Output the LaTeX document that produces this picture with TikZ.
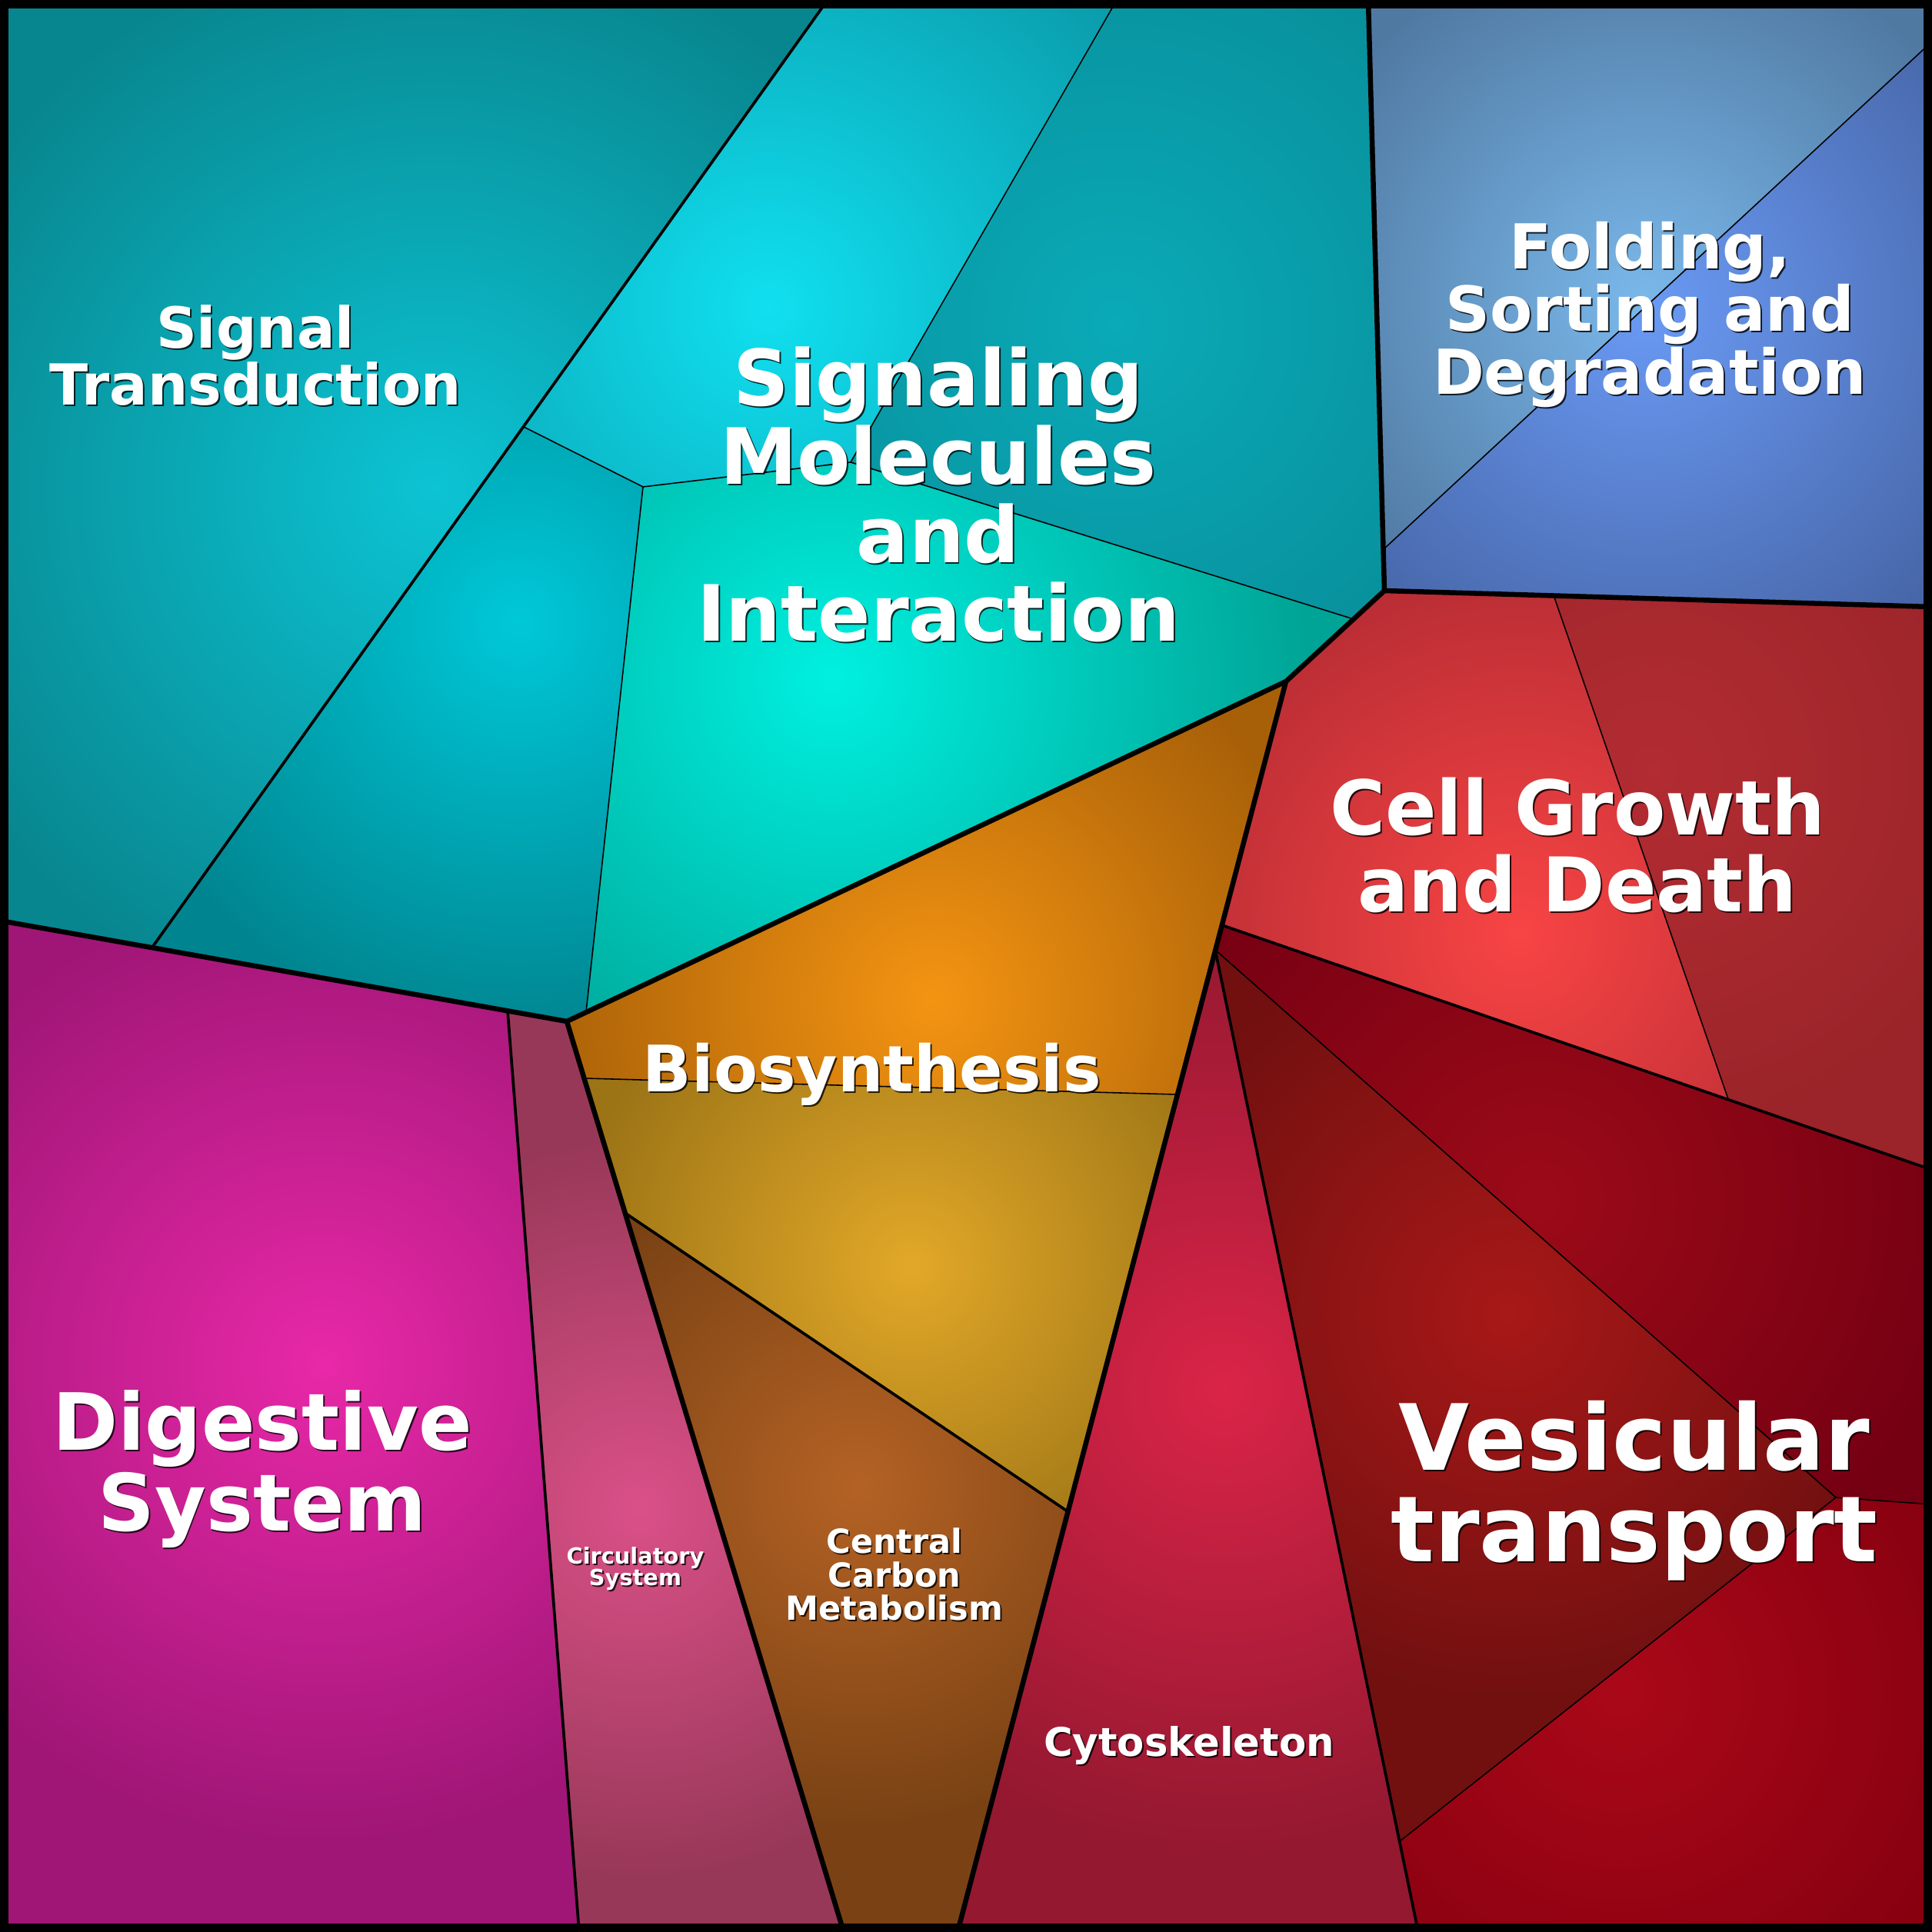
\documentclass[tikz,border=0pt]{standalone}
\usepackage{fontspec}
\setmainfont{DejaVu Sans}
\usepackage{tikz}

%% cell colours: bright centre / dark rim
\definecolor{stIn}{HTML}{0CC4D4}  \definecolor{stOut}{HTML}{08868F}
\definecolor{smaIn}{HTML}{10E0F0} \definecolor{smaOut}{HTML}{0A98A8}
\definecolor{smbIn}{HTML}{0AAAB8} \definecolor{smbOut}{HTML}{08909C}
\definecolor{smcIn}{HTML}{00C8D8} \definecolor{smcOut}{HTML}{008590}
\definecolor{smdIn}{HTML}{00F0E0} \definecolor{smdOut}{HTML}{00A496}
\definecolor{foaIn}{HTML}{7AB8EA} \definecolor{foaOut}{HTML}{5079A2}
\definecolor{fobIn}{HTML}{6A9AF4} \definecolor{fobOut}{HTML}{4766A8}
\definecolor{cgaIn}{HTML}{F84444} \definecolor{cgaOut}{HTML}{B02A32}
\definecolor{cgbIn}{HTML}{B22C32} \definecolor{cgbOut}{HTML}{9A2429}
\definecolor{veaIn}{HTML}{9C0A18} \definecolor{veaOut}{HTML}{740012}
\definecolor{vebIn}{HTML}{A81818} \definecolor{vebOut}{HTML}{721010}
\definecolor{vecIn}{HTML}{AA0818} \definecolor{vecOut}{HTML}{860010}
\definecolor{cyIn}{HTML}{DA2448}  \definecolor{cyOut}{HTML}{941830}
\definecolor{biaIn}{HTML}{F49412} \definecolor{biaOut}{HTML}{A86008}
\definecolor{bibIn}{HTML}{E2A828} \definecolor{bibOut}{HTML}{9C7416}
\definecolor{ccIn}{HTML}{B46224}  \definecolor{ccOut}{HTML}{7A4214}
\definecolor{dgIn}{HTML}{E828A8}  \definecolor{dgOut}{HTML}{A01676}
\definecolor{ciIn}{HTML}{DA5088}  \definecolor{ciOut}{HTML}{983858}

\tikzset{
  groupedge/.style={line width=1.85pt, line join=round, line cap=round},
  subedge/.style={line width=1.05pt, line cap=round},
  celledge/.style={line width=0.45pt},
  celltext/.style={text=white, align=center, inner sep=0pt},
  cellshadow/.style={text=black, opacity=0.8, align=center, inner sep=0pt,
                     xshift=0.55pt, yshift=-0.55pt}
}

%% #1 outline, #2 centre of the glow, #3 inner, #4 outer, #5 radius
\newcommand\voronoicell[5]{%
  \begin{scope}
    \clip #1 -- cycle;
    \fill[#4] (nw) rectangle (se);
    \shade[inner color=#3, outer color=#4] (#2) circle (#5);
  \end{scope}}

%% #1 name, #2 position, #3 font size, #4 line skip, #5 text
\newcommand\celllabel[5]{%
  \node[cellshadow, font=\fontsize{#3}{#4}\selectfont\bfseries] (#1-shadow) at (#2) {#5};
  \node[celltext, font=\fontsize{#3}{#4}\selectfont\bfseries] (#1) at (#2) {#5};}

\begin{document}
\begin{tikzpicture}[x=0.01cm, y=-0.01cm]
  \coordinate (nw) at (0,0);
  \coordinate (ne) at (2512,0);
  \coordinate (se) at (2512,2512);
  \coordinate (sw) at (0,2512);
  \useasboundingbox (nw) rectangle (se);

  %% group corners
  \coordinate (foldtop) at (1779,0);
  \coordinate (hubne) at (1800,768);
  \coordinate (hube) at (1672,886);
  \coordinate (hubw) at (737,1328);
  \coordinate (west) at (0,1197);
  \coordinate (foldright) at (2512,789);
  \coordinate (biobotr) at (1245,2512);
  \coordinate (biobotl) at (1097,2512);

  %% signaling
  \coordinate (sttop) at (1076,0);
  \coordinate (stbot) at (197,1233);
  \coordinate (sma) at (681,555);
  \coordinate (smb) at (836,633);
  \coordinate (smtop) at (1452,0);
  \coordinate (smc) at (1106,601);
  \coordinate (smd) at (1760,805);
  \coordinate (sme) at (762,1316);

  %% folding
  \coordinate (foa) at (2512,54);
  \coordinate (fob) at (1798,715);

  %% cellular processes
  \coordinate (cga) at (2020,774);
  \coordinate (cgb) at (2247,1429);
  \coordinate (cgc) at (1589,1203);
  \coordinate (cgd) at (2512,1521);
  \coordinate (vea) at (1580,1235);
  \coordinate (veb) at (2387,1947);
  \coordinate (vec) at (2512,1956);
  \coordinate (ved) at (1820,2394);
  \coordinate (vee) at (1844,2512);

  %% metabolism
  \coordinate (bia) at (760,1402);
  \coordinate (bib) at (1531,1423);
  \coordinate (bic) at (814,1578);
  \coordinate (bid) at (1388,1965);

  %% organismal systems
  \coordinate (ora) at (660,1314);
  \coordinate (orb) at (753,2512);

  \voronoicell{(nw) -- (sttop) -- (stbot) -- (west)}{565,635}{stIn}{stOut}{720}
  \voronoicell{(sttop) -- (smtop) -- (smc) -- (smb) -- (sma)}{1000,400}{smaIn}{smaOut}{620}
  \voronoicell{(smtop) -- (foldtop) -- (hubne) -- (smd) -- (smc)}{1450,420}{smbIn}{smbOut}{520}
  \voronoicell{(sma) -- (smb) -- (sme) -- (hubw) -- (stbot)}{673,809}{smcIn}{smcOut}{540}
  \voronoicell{(smb) -- (smc) -- (smd) -- (hube) -- (sme)}{1082,881}{smdIn}{smdOut}{620}
  \voronoicell{(foldtop) -- (ne) -- (foa) -- (fob)}{2139,388}{foaIn}{foaOut}{480}
  \voronoicell{(fob) -- (foa) -- (foldright) -- (hubne)}{2139,400}{fobIn}{fobOut}{520}
  \voronoicell{(hubne) -- (cga) -- (cgb) -- (cgc) -- (hube)}{1975,1213}{cgaIn}{cgaOut}{540}
  \voronoicell{(cga) -- (foldright) -- (cgd) -- (cgb)}{2150,1000}{cgbIn}{cgbOut}{480}
  \voronoicell{(cgc) -- (cgd) -- (vec) -- (veb) -- (vea)}{2000,1560}{veaIn}{veaOut}{580}
  \voronoicell{(vea) -- (veb) -- (ved)}{1960,1707}{vebIn}{vebOut}{500}
  \voronoicell{(veb) -- (vec) -- (se) -- (vee) -- (ved)}{2106,2200}{vecIn}{vecOut}{500}
  \voronoicell{(vea) -- (vee) -- (biobotr)}{1592,1807}{cyIn}{cyOut}{600}
  \voronoicell{(hubw) -- (hube) -- (bib) -- (bia)}{1213,1300}{biaIn}{biaOut}{520}
  \voronoicell{(bia) -- (bib) -- (bid) -- (bic)}{1185,1646}{bibIn}{bibOut}{440}
  \voronoicell{(bic) -- (bid) -- (biobotr) -- (biobotl)}{1115,1933}{ccIn}{ccOut}{440}
  \voronoicell{(west) -- (ora) -- (orb) -- (sw)}{420,1773}{dgIn}{dgOut}{620}
  \voronoicell{(ora) -- (hubw) -- (biobotl) -- (orb)}{831,1961}{ciIn}{ciOut}{480}

  %% borders, finest first
  \draw[celledge] (sma) -- (smb) -- (smc) -- (smtop);
  \draw[celledge] (smc) -- (smd);
  \draw[celledge] (smb) -- (sme);
  \draw[celledge] (foa) -- (fob);
  \draw[celledge] (cga) -- (cgb);
  \draw[celledge] (vea) -- (veb) -- (vec);
  \draw[celledge] (veb) -- (ved);
  \draw[celledge] (bia) -- (bib);

  \draw[subedge] (sttop) -- (stbot);
  \draw[subedge] (cgc) -- (cgd);
  \draw[subedge] (vea) -- (vee);
  \draw[subedge] (ora) -- (orb);
  \draw[subedge] (bic) -- (bid);

  \draw[groupedge] (foldtop) -- (hubne) -- (foldright);
  \draw[groupedge] (hubne) -- (hube) -- (hubw) -- (west);
  \draw[groupedge] (hube) -- (biobotr);
  \draw[groupedge] (hubw) -- (biobotl);
  \draw[line width=3.13pt] (5.5,5.5) rectangle (2506.5,2506.5);

  %% labels
  \celllabel{signal}{332,462}{20.9}{21.1}{Signal\\Transduction}
  \celllabel{molecules}{1220,643}{28.7}{29}{Signaling\\Molecules\\and\\Interaction}
  \celllabel{folding}{2145,409}{22.9}{23.2}{Folding,\\Sorting and\\Degradation}
  \celllabel{growth}{2051,1099}{27.9}{28.3}{Cell Growth\\and Death}
  \celllabel{biosynthesis}{1134,1397}{23.7}{24}{Biosynthesis}
  \celllabel{digestive}{341,1910}{29.2}{29.8}{Digestive\\System}
  \celllabel{circulatory}{826,2040}{8.2}{8}{Circulatory\\System}
  \celllabel{carbon}{1163,2047}{12.25}{12.3}{Central\\Carbon\\Metabolism}
  \celllabel{cytoskeleton}{1546,2270}{14.6}{14.8}{Cytoskeleton}
  \celllabel{vesicular}{2125,1938}{33.8}{33.9}{Vesicular\\transport}
\end{tikzpicture}
\end{document}
